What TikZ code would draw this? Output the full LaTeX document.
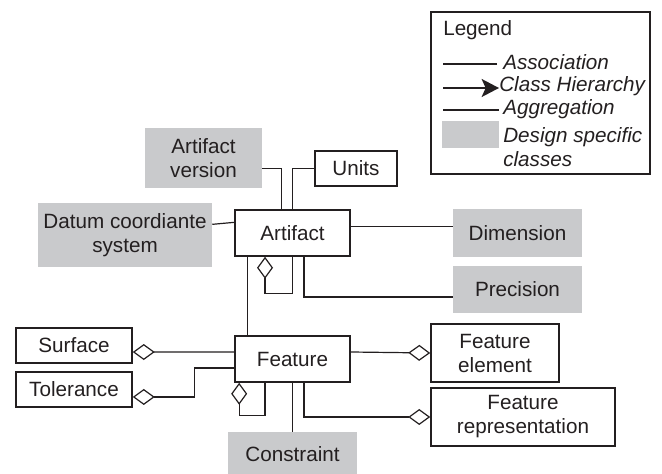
\documentclass[tikz,border=0pt]{standalone}
\usepackage{fontspec}
\setmainfont{Liberation Sans}
\usetikzlibrary{arrows.meta}
\definecolor{dsgray}{RGB}{201,202,204}
\definecolor{ink}{RGB}{35,31,32}
\begin{document}
\begin{tikzpicture}[x=0.75pt, y=-0.75pt, font=\fontsize{15.5}{18}\selectfont, color=ink,
    box/.style={draw, line width=1.15pt, inner sep=0pt, align=center},
    dbox/.style={fill=dsgray, inner sep=0pt, align=center},
    assoc/.style={line width=0.9pt},
    agg/.style={assoc, -{Diamond[open, length=16.5pt, width=12pt]}},
    lbl/.style={anchor=west, inner sep=0pt, font=\fontsize{15.5}{18}\selectfont\itshape}]
\useasboundingbox (0,0) rectangle (662,474);

% legend
\node[draw, line width=1.15pt, minimum width=164.25pt, minimum height=121.5pt] (leg) at (540.5,93) {};
\node[anchor=west, inner sep=0pt] (legt) at (443,30) {Legend};
\node[lbl] (lass) at (503,62) {Association};
\node[lbl] (lch) at (499,86) {Class Hierarchy};
\node[lbl] (lagg) at (503,109) {Aggregation};
\node[dbox, minimum width=42.75pt, minimum height=20.25pt] (lds) at (470.5,134.5) {};
\node[lbl, align=left] (ldst) at (503,147) {Design specific\\classes};
\draw[assoc] ([shift={(-6,2)}]lass.west) -- ++(-54,0);
\draw[line width=1.6pt, -{Stealth[length=13pt, width=13.5pt, inset=3pt]}] ([shift={(-56,2)}]lch.west) -- ++(56,0);
\draw[line width=2.1pt] ([shift={(-4,1)}]lagg.west) -- ++(-56,0);

% classes
\node[dbox, minimum width=87.75pt, minimum height=45pt] (av) at (203.5,158) {Artifact\\version};
\node[box, minimum width=61.5pt, minimum height=26.25pt] (un) at (356,168.5) {Units};
\node[box, minimum width=86.25pt, minimum height=34.5pt] (art) at (292.5,233) {Artifact};
\node[dbox, minimum width=130.5pt, minimum height=48pt] (dcs) at (125,235) {Datum coordiante\\system};
\node[dbox, minimum width=96.75pt, minimum height=36pt] (dim) at (517.5,233) {Dimension};
\node[dbox, minimum width=96.75pt, minimum height=35.25pt] (prec) at (517.5,289.5) {Precision};
\node[box, minimum width=86.25pt, minimum height=34.5pt] (feat) at (292.5,359) {Feature};
\node[box, minimum width=87pt, minimum height=26.25pt] (sur) at (74,345.5) {Surface};
\node[box, minimum width=87pt, minimum height=26.25pt] (tol) at (74,389.5) {Tolerance};
\node[box, minimum width=96pt, minimum height=43.5pt] (fe) at (495,353) {Feature\\element};
\node[box, minimum width=138pt, minimum height=43.5pt] (fr) at (523,417) {Feature\\representation};
\node[dbox, minimum width=96.75pt, minimum height=33pt] (con) at (292.5,454) {Constraint};

% connectors
\draw[assoc] (av.east |- un.west) -| ([xshift=-8pt]art.north);
\draw[assoc] (art.north) |- (un.west);
\draw[assoc] ([yshift=8pt]art.west) -- ([yshift=8pt]dcs.east);
\draw[assoc] ([yshift=5pt]art.east) -- ([yshift=5pt]dim.west);
\draw[assoc] ([xshift=8.6pt]art.south) |- ([yshift=-5.6pt]prec.west);
\draw[agg] (art.south) -- ++(0,37) -| ([xshift=-20.6pt]art.south);
\draw[assoc] ([xshift=-34pt]art.south) -- ([xshift=-34pt]feat.north);
\draw[agg] ([yshift=5.25pt]feat.west) -- ([yshift=-4.9pt]sur.east);
\draw[agg] ([yshift=-6.75pt]feat.west) -- ++(-40,0) |- ([yshift=-5.6pt]tol.east);
\draw[agg] ([xshift=-20.6pt]feat.south) -- ++(0,33) -| ([xshift=-40pt]feat.south);
\draw[assoc] (feat.south) -- (con.north);
\draw[agg] ([yshift=5.25pt]feat.east) -- (fe.west);
\draw[agg] ([xshift=8.6pt]feat.south) |- (fr.west);
\end{tikzpicture}
\end{document}
